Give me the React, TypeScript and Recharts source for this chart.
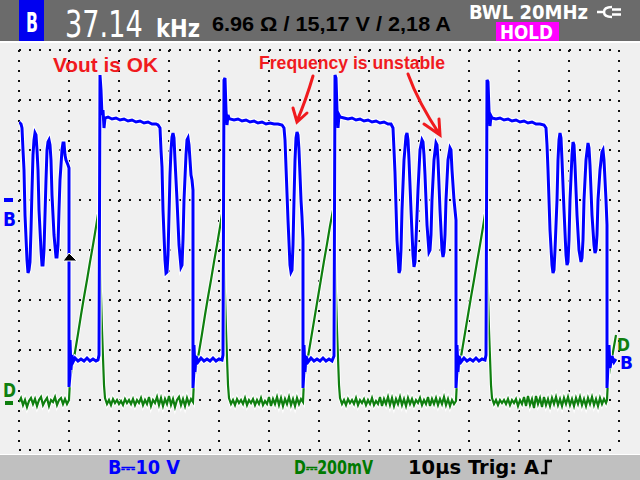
import { LineChart, Line, XAxis, YAxis, CartesianGrid, ReferenceDot } from "recharts"

// scope screen: 12 div x 10 µs, channel B 10 V/div, channel D 200 mV/div
const timeTicks = [0, 10, 20, 30, 40, 50, 60, 70, 80, 90, 100, 110, 120]
const voltTicks = [-50, -40, -30, -20, -10, 0, 10, 20, 30]

// channel B (V) vs time (µs)
const blueTrace: [number, number][] = [
  [0, 15.6], [0.4, 15.2], [0.6, 14.4], [0.8, 10], [1, 6], [1.2, -3], [1.6, -12], [1.8, -14.6], [2, -14], [2.2, -12.4],
  [2.4, -6], [2.6, 2], [2.8, 9], [3, 12], [3.2, 13.4], [3.4, 13], [3.6, 10], [3.8, 6], [4, -2], [4.4, -10], [4.6, -13],
  [4.8, -13], [5, -10], [5.2, -3], [5.4, 4], [5.6, 10], [5.8, 11.6], [6, 12], [6.2, 11], [6.4, 8], [6.6, 1], [7, -7],
  [7.4, -11.4], [7.6, -11.4], [7.8, -9], [8, -2], [8.2, 4], [8.6, 10], [8.8, 11.4], [9, 11.4], [9.2, 9], [9.4, 8],
  [9.8, 7], [10, 6.4], [10, -37.4], [10.2, -35], [10.2, -28], [10.4, -34], [10.6, -31], [10.8, -32.4], [11.2, -31.6],
  [11.8, -32.2], [12.4, -31.8], [13, -32.2], [13.6, -31.6], [14.2, -32.2], [14.8, -31.8], [15.4, -32.2], [15.8, -32],
  [16, -31], [16.2, 25], [16.4, 22], [16.6, 17], [16.8, 18], [17, 14.4], [17.2, 16.4], [17.8, 16.6], [18.6, 16.2],
  [19.4, 16.4], [20.2, 16], [21, 16.2], [21.8, 15.8], [22.6, 16], [23.4, 15.6], [24.2, 15.8], [25, 15.4], [25.8, 15.6],
  [26.6, 15.2], [27.4, 15.2], [27.8, 15],
  [28.2, 14.4], [28.4, 10], [28.6, 6.6], [28.8, -2], [29.2, -12], [29.4, -14.6], [29.6, -14.4], [29.8, -11], [30, -3],
  [30.2, 5], [30.4, 10], [30.6, 12.6], [30.8, 13.4], [31, 12.4], [31.2, 8], [31.6, 0], [32, -9], [32.4, -13.4],
  [32.6, -13], [32.8, -8], [33, 0], [33.4, 9], [33.6, 12], [33.8, 12.4], [34, 11], [34.2, 8], [34.4, 5], [34.6, 4],
  [34.8, 2], [34.8, -37.6], [35, -34], [35, -29], [35.2, -34.4], [35.4, -31.2], [35.8, -32.4], [36.4, -31.6],
  [37, -32.2], [37.6, -31.8], [38.2, -32.2], [38.8, -31.6], [39.4, -32.2], [40, -31.8], [40.6, -32], [40.8, -31],
  [41, 24], [41.2, 24.4], [41.4, 18], [41.6, 15], [41.8, 17], [42, 16.4], [42.2, 16.2], [43, 16], [43.8, 16.2],
  [44.6, 15.8], [45.4, 16], [46.2, 15.6], [47, 15.8], [47.8, 15.4], [48.6, 15.6], [49.4, 15.2], [50.2, 15.4],
  [51, 15.2], [51.8, 15.2], [52.6, 15],
  [53, 14.4], [53.2, 12], [53.4, 6.6], [53.8, -4], [54.2, -13], [54.4, -14.4], [54.6, -14], [54.8, -9], [55, 0],
  [55.2, 8], [55.4, 12.4], [55.6, 13.6], [55.8, 13], [56, 10], [56.4, 0], [56.6, -3.4], [56.8, -8], [56.8, -37.6],
  [57, -34], [57, -29], [57.2, -34.4], [57.4, -31.2], [57.8, -32.4], [58.4, -31.6], [59, -32.2], [59.6, -31.8],
  [60.2, -32.2], [60.8, -31.6], [61.4, -32.2], [62, -31.8], [62.6, -32.2], [63, -31.2], [63.2, 25], [63.4, 24.4],
  [63.6, 18], [63.8, 14.4], [64, 17], [64.2, 16.6], [65, 16.4], [65.8, 16.2], [66.6, 16.4], [67.4, 16], [68.2, 16.2],
  [69, 15.8], [69.8, 16], [70.6, 15.6], [71.4, 15.8], [72.2, 15.4], [73, 15.6], [73.8, 15.2], [74.4, 15.2],
  [74.8, 14.4], [75, 10], [75.2, 5.4], [75.6, -8], [76, -14.6], [76.2, -14], [76.4, -10], [76.6, -2], [77, 8],
  [77.4, 12.8], [77.6, 13.4], [77.8, 12], [78, 8], [78.4, -2], [78.8, -11], [79, -13.4], [79.2, -12.4], [79.4, -8],
  [79.8, 2], [80.2, 10], [80.6, 12], [80.8, 11.6], [81, 9], [81.2, 5], [81.6, -5], [82, -10.4], [82.2, -10],
  [82.4, -7], [82.6, 0], [83, 8], [83.4, 11.4], [83.6, 11], [83.8, 8], [84.2, -2], [84.6, -10], [84.8, -11.4],
  [85, -10.4], [85.2, -7], [85.4, 0], [85.8, 8], [86.2, 10.4], [86.4, 10], [86.6, 6], [87, 0], [87.2, -2], [87.4, -4],
  [87.4, -37.6], [87.6, -34], [87.6, -29], [87.8, -34.4], [88, -31.2], [88.4, -32.4], [89, -31.6], [89.6, -32.2],
  [90.2, -31.8], [90.8, -32.2], [91.4, -31.6], [92, -32.2], [92.6, -31.8], [93.2, -32], [93.4, -31], [93.6, 24],
  [93.8, 23.6], [94, 18], [94.2, 14.8], [94.4, 16.8], [94.6, 16.4], [95.4, 16.2], [96.2, 16.4], [97, 16], [97.8, 16.2],
  [98.6, 15.8], [99.4, 16], [100.2, 15.6], [101, 15.8], [101.8, 15.4], [102.6, 15.6], [103.4, 15.2], [104.2, 15.2],
  [105, 15],
  [105.4, 14.4], [105.6, 11], [105.8, 6], [106.2, -6], [106.6, -13], [106.8, -14.6], [107, -14], [107.2, -10],
  [107.6, 0], [107.8, 8], [108, 12], [108.2, 13.4], [108.4, 12.4], [108.6, 8], [109, -2], [109.4, -11], [109.6, -13],
  [109.8, -12.4], [110, -8], [110.2, 0], [110.6, 9], [110.8, 11.6], [111, 11], [111.2, 7], [111.6, -3], [112, -10],
  [112.4, -12.4], [112.6, -11.6], [112.8, -8], [113, 0], [113.4, 8], [113.8, 11.4], [114, 10.4], [114.2, 7],
  [114.6, -3], [115, -9], [115.2, -10.6], [115.4, -10], [115.6, -7], [115.8, 0], [116.2, 6], [116.6, 9.6], [116.8, 10],
  [117, 8], [117.2, 4], [117.4, 0], [117.6, -5], [117.6, -37.6], [117.8, -33], [118, -29], [118.2, -33.6],
  [118.6, -31.2], [119, -32.4], [119.4, -31.8],
]

// channel D (mV) vs time (µs)
const greenTrace: [number, number][] = [
  [0, -8], [0.4, 8], [0.8, -20], [1.2, 0], [1.6, -28], [2, -4], [2.4, 8], [2.8, -16], [3.2, 4], [3.6, -24], [4, 0],
  [4.4, 12], [4.8, -20], [5.2, -4], [5.6, 8], [6, -24], [6.4, 0], [6.8, -8], [7.2, 12], [7.6, -20], [8, 0], [8.4, 8],
  [8.8, -16], [9.2, 4], [9.6, -16], [10, 0],
  [10.2, 80], [10.6, 128], [11.2, 192], [11.8, 264], [12.4, 340], [13, 412], [13.6, 480], [14.2, 552], [14.8, 620],
  [15.4, 692], [15.8, 744], [16, 752], [16.2, 560], [16.6, 280], [17, 60], [17.2, 8],
  [17.6, -16], [18, 0], [18.4, -20], [18.8, 4], [19.2, -12], [19.6, 0], [20, -16], [20.4, -4], [20.8, -20], [21.2, 4],
  [21.6, -12], [22, 0], [22.4, -16], [22.8, 4], [23.2, -20], [23.6, 0], [24, -12], [24.4, 8], [24.8, -20], [25.2, 0],
  [25.6, -16], [26, 12], [26.4, -24], [26.8, 0], [27.2, -12], [27.6, 12], [28, -20], [28.4, 8], [28.8, -24], [29.2, 4],
  [29.6, -16], [30, 16], [30.4, -20], [30.8, 4], [31.2, -28], [31.6, 0], [32, 12], [32.4, -20], [32.8, 4], [33.2, -24],
  [33.6, 8], [34, -16], [34.4, 4], [34.8, -8],
  [35, 80], [35.4, 128], [36, 192], [36.6, 264], [37.2, 340], [37.8, 412], [38.4, 480], [39, 552], [39.6, 620],
  [40.2, 692], [40.6, 744], [40.8, 752], [41, 560], [41.4, 280], [41.8, 60], [42, 8],
  [42.4, -16], [42.8, 0], [43.2, -20], [43.6, 4], [44, -12], [44.4, 0], [44.8, -16], [45.2, 8], [45.6, -20], [46, 0],
  [46.4, -12], [46.8, 4], [47.2, -20], [47.6, 0], [48, -16], [48.4, 8], [48.8, -20], [49.2, -4], [49.6, -16], [50, 12],
  [50.4, -24], [50.8, 4], [51.2, -16], [51.6, 12], [52, -20], [52.4, 8], [52.8, -24], [53.2, 4], [53.6, -16], [54, 12],
  [54.4, -20], [54.8, 4], [55.2, -24], [55.6, 8], [56, -16], [56.4, 4], [56.8, -8],
  [57, 80], [57.4, 128], [58, 196], [58.6, 268], [59.2, 340], [59.8, 412], [60.4, 484], [61, 556], [61.6, 624],
  [62.2, 696], [62.8, 760], [63, 772], [63.2, 560], [63.6, 280], [64, 60], [64.2, 8],
  [64.6, -16], [65, 0], [65.4, -20], [65.8, 4], [66.2, -12], [66.6, 0], [67, -16], [67.4, 8], [67.8, -20], [68.2, 0],
  [68.6, -12], [69, 4], [69.4, -20], [69.8, 0], [70.2, -16], [70.6, 8], [71, -20], [71.4, -4], [71.8, -16], [72.2, 12],
  [72.6, -24], [73, 4], [73.4, -16], [73.8, 12], [74.2, -20], [74.6, 8], [75, -24], [75.4, 4], [75.8, -16], [76.2, 12],
  [76.6, -20], [77, 4], [77.4, -24], [77.8, 8], [78.2, -16], [78.6, 4], [79, -20], [79.4, 0], [79.8, -12], [80.2, 8],
  [80.6, -20], [81, 0], [81.4, -16], [81.8, 12], [82.2, -24], [82.6, 4], [83, -16], [83.4, 8], [83.8, -20], [84.2, 4],
  [84.6, -16], [85, 12], [85.4, -20], [85.8, 4], [86.2, -24], [86.6, 0], [87, -16], [87.4, -4],
  [87.6, 80], [88, 128], [88.6, 196], [89.2, 268], [89.8, 340], [90.4, 412], [91, 480], [91.6, 552], [92.2, 620],
  [92.8, 692], [93.2, 744], [93.4, 752], [93.6, 560], [94, 280], [94.4, 60], [94.6, 8],
  [95, -16], [95.4, 0], [95.8, -20], [96.2, 0], [96.6, -12], [97, 0], [97.4, -16], [97.8, 4], [98.2, -20], [98.6, 0],
  [99, -12], [99.4, 4], [99.8, -24], [100.2, 0], [100.6, -16], [101, 12], [101.4, -24], [101.8, 16], [102.2, -20],
  [102.6, 4], [103, -32], [103.4, 16], [103.8, -16], [104.2, 8], [104.6, -28], [105, 12], [105.4, -20], [105.8, 4],
  [106.2, -24], [106.6, 8], [107, -16], [107.4, 12], [107.8, -20], [108.2, 4], [108.6, -24], [109, 8], [109.4, -16],
  [109.8, 12], [110.2, -20], [110.6, 4], [111, -24], [111.4, 8], [111.8, -16], [112.2, 12], [112.6, -20], [113, 4],
  [113.4, -24], [113.8, 8], [114.2, -16], [114.6, 12], [115, -20], [115.4, 4], [115.8, -24], [116.2, 8], [116.6, -16],
  [117, 4], [117.4, -12], [117.6, 0],
  [117.8, 80], [118.2, 128], [118.8, 192], [119.4, 260],
]

const triggerPoint = { t: 10, v: -11.4 }

const readingFreq = "37.14"
const readingUnit = "kHz"
const readingMeter = "6.96 Ω / 15,17 V / 2,18 A"
const bandwidthLabel = "BWL 20MHz"
const scaleB = "B⎓10 V"
const scaleD = "D⎓200mV"
const timebase = "10µs Trig: A"

const blueData = blueTrace.map(([t, v]) => ({ t, v }))
const greenData = greenTrace.map(([t, v]) => ({ t, v }))

const BLUE = "#0000ff"
const GREEN = "#0f7f0f"
const RED = "#f01a1e"
const narrow = "'DejaVu Sans', sans-serif"
const arial = "'Liberation Sans', Arial, sans-serif"

const TriggerMark = (props: any) => {
  const { cx, cy } = props
  return (
    <path
      d={`M${cx - 6} ${cy + 4} L${cx} ${cy - 4} L${cx + 8} ${cy + 4} Z`}
      fill="#000"
      stroke="#fff"
      strokeWidth={1}
    />
  )
}

export default function App() {
  return (
    <div style={{ position: "absolute", left: 0, top: 0, width: 640, height: 480, background: "#f0f0f0" }}>
      <LineChart width={640} height={480} margin={{ top: 50, right: 21, bottom: 30, left: 19 }}>
        <CartesianGrid stroke="#111" strokeWidth={2} strokeDasharray="2 8" />
        <XAxis type="number" dataKey="t" domain={[0, 120]} ticks={timeTicks} hide allowDataOverflow />
        <YAxis type="number" domain={[-50, 30]} ticks={voltTicks} hide allowDataOverflow />
        <YAxis yAxisId="d" type="number" domain={[-200, 1400]} hide allowDataOverflow />
        <Line yAxisId="d" data={greenData} dataKey="v" type="linear" stroke="#ffffff" strokeWidth={4} dot={false} activeDot={false} isAnimationActive={false} />
        <Line yAxisId="d" data={greenData} dataKey="v" type="linear" stroke={GREEN} strokeWidth={2.2} dot={false} activeDot={false} isAnimationActive={false} />
        <Line data={blueData} dataKey="v" type="linear" stroke="#ffffff" strokeWidth={5} dot={false} activeDot={false} isAnimationActive={false} />
        <Line data={blueData} dataKey="v" type="linear" stroke={BLUE} strokeWidth={3} dot={false} activeDot={false} isAnimationActive={false} />
        <ReferenceDot x={triggerPoint.t} y={triggerPoint.v} shape={TriggerMark} />
      </LineChart>

      <svg width={640} height={480} style={{ position: "absolute", left: 0, top: 0, pointerEvents: "none" }}>
        {/* header */}
        <rect x={0} y={0} width={640} height={41} fill="#6b6b6b" />
        <rect x={0} y={41} width={640} height={2} fill="#ffffff" />
        <rect x={19} y={0} width={25} height={41} fill="#0000f0" />
        <text x={26} y={32} fill="#fff" fontFamily={narrow} fontWeight="bold" fontSize={26} textLength={12} lengthAdjust="spacingAndGlyphs">B</text>
        <g transform="translate(65 37) scale(0.715 1)">
          <text x={0} y={0} fill="#fff" fontFamily={narrow} fontSize={38}>{readingFreq}</text>
        </g>
        <text x={156} y={37} fill="#fff" fontFamily={narrow} fontWeight="bold" fontSize={25} textLength={44} lengthAdjust="spacingAndGlyphs">{readingUnit}</text>
        <text x={212} y={31} fill="#000" fontFamily={arial} fontWeight="bold" fontSize={21} textLength={239} lengthAdjust="spacingAndGlyphs">{readingMeter}</text>
        <text x={469} y={19} fill="#fff" fontFamily={narrow} fontWeight="bold" fontSize={19} textLength={119} lengthAdjust="spacingAndGlyphs">{bandwidthLabel}</text>
        <path
          d="M597 12 H604 M612 7 Q604 7 604 12 Q604 17 612 17 M612 9.5 H621 M612 14.5 H621"
          stroke="#fff"
          strokeWidth={2.5}
          fill="none"
        />
        <rect x={496} y={22} width={63} height={19} fill="#ff00ff" />
        <text x={500} y={39} fill="#fff" fontFamily={narrow} fontWeight="bold" fontSize={19} textLength={53} lengthAdjust="spacingAndGlyphs">HOLD</text>

        {/* footer */}
        <rect x={0} y={454} width={640} height={1} fill="#ffffff" />
        <rect x={0} y={455} width={640} height={25} fill="#c0c0c0" />
        <text x={108} y={474} fill={BLUE} fontFamily={narrow} fontWeight="bold" fontSize={19} textLength={72} lengthAdjust="spacingAndGlyphs">{scaleB}</text>
        <text x={294} y={474} fill="#007a00" fontFamily={narrow} fontWeight="bold" fontSize={19} textLength={79} lengthAdjust="spacingAndGlyphs">{scaleD}</text>
        <text x={408} y={474} fill="#000" fontFamily={narrow} fontWeight="bold" fontSize={19} textLength={131} lengthAdjust="spacingAndGlyphs">{timebase}</text>
        <path d="M541 473 H546 V461 H552" stroke="#000" strokeWidth={2.5} fill="none" />

        {/* channel markers */}
        <rect x={4} y={198} width={9} height={4} fill={BLUE} />
        <text x={3} y={226} fill={BLUE} fontFamily={narrow} fontWeight="bold" fontSize={19} textLength={13} lengthAdjust="spacingAndGlyphs">B</text>
        <text x={3} y={397} fill={GREEN} fontFamily={narrow} fontWeight="bold" fontSize={19} textLength={13} lengthAdjust="spacingAndGlyphs">D</text>
        <rect x={5} y={401} width={8} height={4} fill={GREEN} />
        <text x={617} y={351} fill={GREEN} fontFamily={narrow} fontWeight="bold" fontSize={17} textLength={13} lengthAdjust="spacingAndGlyphs">D</text>
        <text x={620} y={369} fill={BLUE} fontFamily={narrow} fontWeight="bold" fontSize={17} textLength={13} lengthAdjust="spacingAndGlyphs">B</text>

        {/* annotations */}
        <text x={53} y={72} fill={RED} fontFamily={arial} fontWeight="bold" fontSize={21} textLength={105} lengthAdjust="spacingAndGlyphs">Vout is OK</text>
        <text x={259} y={69} fill={RED} fontFamily={arial} fontWeight="bold" fontSize={18} textLength={186} lengthAdjust="spacingAndGlyphs">Frequency is unstable</text>
        <path d="M313 76 Q306 100 297 121 M293 108 L297 122 L307 113" stroke={RED} strokeWidth={3} fill="none" strokeLinecap="round" />
        <path d="M408 74 Q418 102 440 135 M424 124 L440 135 L439 119" stroke={RED} strokeWidth={3} fill="none" strokeLinecap="round" />
      </svg>
    </div>
  )
}
